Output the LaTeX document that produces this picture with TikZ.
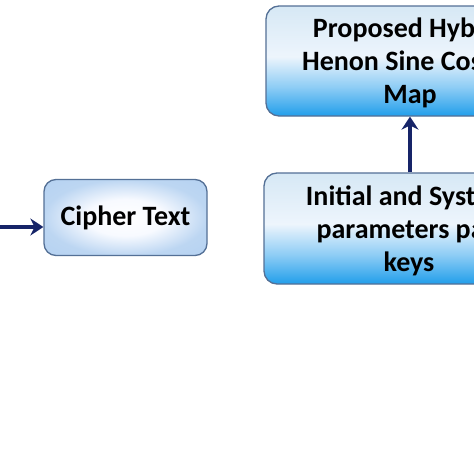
\documentclass[tikz,border=0pt]{standalone}
\usepackage{fontspec}
\setmainfont{Carlito}
\usetikzlibrary{arrows.meta}

\definecolor{boxline}{RGB}{84,112,150}
\definecolor{arrowblue}{RGB}{22,36,104}
\pgfdeclareverticalshading{skyfade}{100bp}{%
  rgb(0bp)=(0.13,0.62,0.92);
  rgb(25bp)=(0.13,0.62,0.92);
  rgb(38bp)=(0.55,0.80,0.96);
  rgb(52bp)=(0.93,0.96,0.99);
  rgb(75bp)=(0.84,0.91,0.96);
  rgb(100bp)=(0.84,0.91,0.96)}
\pgfdeclareradialshading{glow}{\pgfpoint{0bp}{0bp}}{%
  rgb(0bp)=(1,1,1);
  rgb(12bp)=(0.97,0.98,1);
  rgb(25bp)=(0.74,0.84,0.95);
  rgb(50bp)=(0.67,0.80,0.94)}

\tikzset{
  skybox/.style={draw=boxline, line width=1.3pt, rounded corners=13pt,
    shading=skyfade, align=center, font=\bfseries\fontsize{28}{33}\selectfont,
    inner sep=0pt, text depth=0pt},
  glowbox/.style={draw=boxline, line width=1.3pt, rounded corners=12pt,
    shading=glow, align=center,
    font=\bfseries\fontsize{28}{33}\selectfont, inner sep=0pt},
  flow/.style={draw=arrowblue, line width=4.5pt, -{Stealth[length=13pt,width=17pt]}}
}

\begin{document}
\begin{tikzpicture}[x=1pt,y=-1pt]
  % Frame of the picture
  \useasboundingbox (0,0) rectangle (474,474);
  \fill[white] (0,0) rectangle (474,474);
  \clip (0,0) rectangle (474,474);

  % Boxes
  \node[skybox, minimum width=288pt, minimum height=110pt] (map) at (410,61)
    {Proposed Hybrid\\Henon Sine Cosine\\Map};
  \node[skybox, minimum width=290pt, minimum height=111pt] (keys) at (409,228.5)
    {Initial and System\\parameters pair\\keys};
  \node[glowbox, minimum width=163pt, minimum height=76pt] (cipher) at (125.5,217.5)
    {Cipher Text};

  % Free end of the incoming arrow
  \coordinate (src) at (-10,227);

  % Arrows
  \draw[flow] (src) -- (src -| cipher.west);
  \draw[flow] (keys.north -| map.south) -- (map.south);
\end{tikzpicture}
\end{document}
